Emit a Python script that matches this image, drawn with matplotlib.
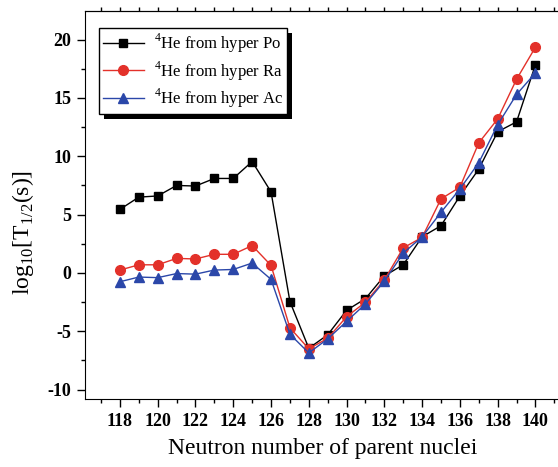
import matplotlib
matplotlib.use("Agg")
import matplotlib.pyplot as plt
from matplotlib.patches import Rectangle
from matplotlib.transforms import IdentityTransform
from matplotlib.ticker import MultipleLocator

plt.rcParams["font.family"] = "Liberation Serif"
plt.rcParams["mathtext.fontset"] = "custom"
plt.rcParams["mathtext.rm"] = "Liberation Serif"
plt.rcParams["axes.unicode_minus"] = False

neutrons = list(range(118, 141))
po = [5.45, 6.5, 6.6, 7.5, 7.45, 8.1, 8.1, 9.55, 6.95, -2.45, -6.45, -5.3, -3.2,
      -2.2, -0.25, 0.7, 3.1, 4.05, 6.6, 8.9, 12.1, 12.95, 17.85]
ra = [0.25, 0.7, 0.7, 1.25, 1.2, 1.6, 1.6, 2.35, 0.65, -4.7, -6.5, -5.6, -3.75,
      -2.5, -0.6, 2.15, 3.05, 6.35, 7.35, 11.15, 13.2, 16.6, 19.35]
ac = [-0.75, -0.35, -0.4, -0.05, -0.1, 0.25, 0.3, 0.85, -0.55, -5.25, -6.85, -5.65, -4.15,
      -2.65, -0.7, 1.7, 3.1, 5.2, 7.2, 9.45, 12.7, 15.3, 17.15]

fig = plt.figure(figsize=(5.58, 4.67), dpi=100)
ax = fig.add_axes([85 / 558, 68 / 467, 475 / 558, 388 / 467])

ax.plot(neutrons, po, color="black", lw=1, marker="s", ms=6.3, label=r"$^{4}$He from hyper Po")
ax.plot(neutrons, ra, color="#e3312a", lw=1, marker="o", ms=7, label=r"$^{4}$He from hyper Ra")
ax.plot(neutrons, ac, color="#2b47a9", lw=1, marker="^", ms=7.5, label=r"$^{4}$He from hyper Ac")

ax.set_xlim(116.15, 141.3)
ax.set_ylim(-10.8, 22.45)
ax.xaxis.set_major_locator(MultipleLocator(2))
ax.xaxis.set_minor_locator(MultipleLocator(1))
ax.yaxis.set_major_locator(MultipleLocator(5))
ax.yaxis.set_minor_locator(MultipleLocator(2.5))
ax.tick_params(which="both", direction="out", width=1)
ax.tick_params(which="major", length=6, pad=4)
ax.tick_params(which="minor", length=3)
for lab in ax.get_xticklabels() + ax.get_yticklabels():
    lab.set_fontweight("bold")
    lab.set_fontsize(13)
ax.spines["right"].set_visible(False)

# small unlabelled ticks along the top edge
top = ax.secondary_xaxis("top")
top.xaxis.set_major_locator(MultipleLocator(1))
top.tick_params(direction="out", length=3, width=1, labeltop=False)

ax.set_xlabel("Neutron number of parent nuclei", fontsize=17, labelpad=6)
ax.set_ylabel(r"log$_{10}$[T$_{1/2}$(s)]", fontsize=17)
ax.yaxis.set_label_coords(-0.104, 0.43)

leg = ax.legend(loc="upper left", bbox_to_anchor=(0.029, 0.957), fontsize=12,
                frameon=True, fancybox=False, edgecolor="black", facecolor="white",
                framealpha=1, handlelength=2.45, borderpad=0.25, labelspacing=0.25,
                handletextpad=0.6, borderaxespad=0)
leg.get_frame().set_linewidth(1)

fig.canvas.draw()
bb = leg.get_window_extent()
shadow = Rectangle((bb.x0 + 5, bb.y0 - 5), bb.width, bb.height, transform=IdentityTransform(),
                   facecolor="black", edgecolor="none", zorder=4.5, clip_on=False)
ax.add_patch(shadow)

fig.savefig("out.png", dpi=100)
